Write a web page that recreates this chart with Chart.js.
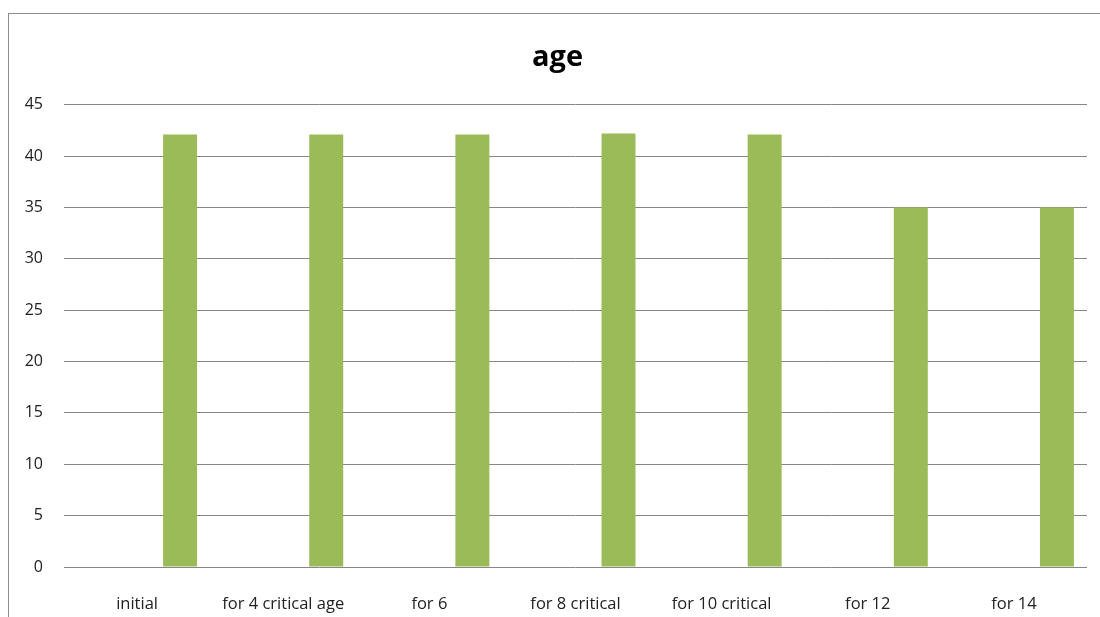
<!DOCTYPE html>
<html>
<head>
<meta charset="utf-8">
<script src="https://cdn.jsdelivr.net/npm/chart.js@4"></script>
<style>
  html, body { margin: 0; padding: 0; background: #fff; overflow: hidden; }
  #frame {
    position: absolute; left: 8px; top: 13px; width: 1100px; height: 620px;
    border-left: 1px solid #8c8c8c; border-top: 1px solid #8c8c8c;
  }
  #wrap { position: absolute; left: 0; top: 0; width: 1100px; height: 617px; }
</style>
</head>
<body>
<div id="frame"></div>
<div id="wrap"><canvas id="chart"></canvas></div>
<script>
const categories = ['initial', 'for 4 critical age', 'for 6', 'for 8 critical', 'for 10 critical', 'for 12', 'for 14'];
const ageValues = [42.1, 42.1, 42.1, 42.2, 42.1, 35, 35];
// the original chart keeps two empty series in front of the green one
const emptySeriesA = [null, null, null, null, null, null, null];
const emptySeriesB = [null, null, null, null, null, null, null];
const yTicks = [0, 5, 10, 15, 20, 25, 30, 35, 40, 45];

const font = '"Open Sans", Lato, sans-serif';

// title in the original sits centred on the frame, a bit right of the canvas centre
const shiftTitle = {
  id: 'shiftTitle',
  afterLayout(chart) {
    if (chart.titleBlock) chart.titleBlock.left += 28;
  }
};

new Chart(document.getElementById('chart'), {
  type: 'bar',
  data: {
    labels: categories,
    datasets: [
      { label: '', data: emptySeriesA, backgroundColor: 'transparent' },
      { label: '', data: emptySeriesB, backgroundColor: 'transparent' },
      { label: 'age', data: ageValues, backgroundColor: '#9bbb59' }
    ]
  },
  options: {
    responsive: true,
    maintainAspectRatio: false,
    animation: false,
    categoryPercentage: 0.883,
    barPercentage: 0.79,
    layout: { padding: { top: 40, right: 13, bottom: 0, left: 0 } },
    scales: {
      x: {
        grid: { display: false },
        border: { display: false },
        ticks: { color: '#222', font: { family: font, size: 16.5 }, padding: 19, maxRotation: 0, autoSkip: false },
        afterFit: (s) => { s.height = 50; }
      },
      y: {
        min: 0,
        max: 45,
        afterBuildTicks: (s) => { s.ticks = yTicks.map(v => ({ value: v })); },
        grid: { color: '#878787', lineWidth: 1, drawTicks: false },
        border: { display: false },
        ticks: { color: '#222', font: { family: font, size: 16 }, padding: 21 },
        afterFit: (s) => { s.width = 64; }
      }
    },
    plugins: {
      legend: { display: false },
      tooltip: { enabled: false },
      title: {
        display: true,
        text: 'age',
        color: '#000',
        font: { family: font, size: 29, weight: 'bold' },
        padding: { top: 0, bottom: 30 }
      }
    }
  },
  plugins: [shiftTitle]
});
</script>
</body>
</html>
